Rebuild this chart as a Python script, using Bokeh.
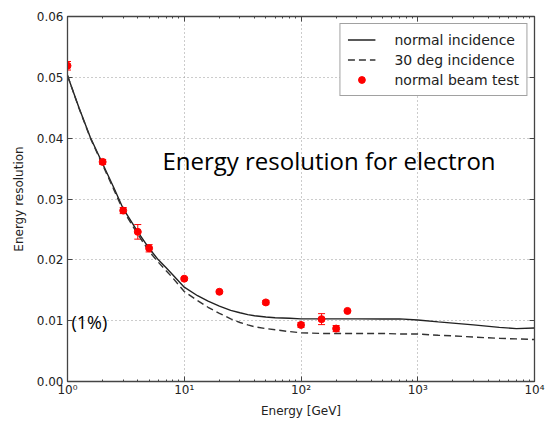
from bokeh.plotting import figure
from bokeh.models import (LogAxis, LinearAxis, FixedTicker, LogTicker, PrintfTickFormatter,
                          Legend, LegendItem, Whisker, TeeHead, ColumnDataSource)
from bokeh.core.properties import value
from bokeh.embed import file_html
from bokeh.resources import INLINE

# ---- data ----
curve_energy = [1, 1.25, 1.57, 2, 2.5, 3, 4, 5, 6, 7, 8, 10, 13, 16, 20, 25, 30, 35, 40, 50,
                60, 80, 100, 150, 200, 300, 500, 700, 1000, 1500, 2000, 3000, 5000, 7000, 10000]
normal_incidence = [0.0503, 0.0451, 0.0401, 0.0358, 0.0318, 0.0284, 0.0246, 0.0219, 0.0200,
                    0.0187, 0.0175, 0.0155, 0.0141, 0.0132, 0.0124, 0.0117, 0.0113, 0.0110,
                    0.0108, 0.0106, 0.01048, 0.0104, 0.0103, 0.0103, 0.0103, 0.0103, 0.01028,
                    0.0103, 0.0101, 0.0098, 0.0096, 0.0093, 0.0089, 0.0087, 0.0088]
deg30_incidence = [0.0503, 0.0450, 0.0400, 0.0356, 0.0315, 0.0281, 0.0242, 0.0214, 0.0196,
                   0.0182, 0.0170, 0.0148, 0.0133, 0.0122, 0.0112, 0.0103, 0.0097, 0.0093,
                   0.0090, 0.0087, 0.0085, 0.0082, 0.0080, 0.0079, 0.0079, 0.0079, 0.0079,
                   0.0078, 0.0078, 0.0076, 0.0075, 0.0073, 0.0071, 0.0070, 0.0069]
beam_energy = [1, 2, 3, 4, 5, 10, 20, 50, 100, 150, 200, 250]
beam_resolution = [0.0519, 0.0361, 0.0281, 0.0246, 0.0219, 0.0169, 0.01475, 0.0130,
                   0.0093, 0.01025, 0.0087, 0.0116]
beam_error = [0.0007, 0.0004, 0.0005, 0.0012, 0.0006, 0.0002, 0.0002, 0.0003,
              0.0004, 0.0009, 0.0005, 0.0002]
y_ticks = [0.0, 0.01, 0.02, 0.03, 0.04, 0.05, 0.06]
x_ticks = [1, 10, 100, 1000, 10000]
x_tick_labels = ["10\u2070", "10\u00b9", "10\u00b2", "10\u00b3", "10\u2074"]

AX = "#444444"
FONT = "DejaVu Sans"

p = figure(x_axis_type="log", x_range=(1, 1e4), y_range=(0, 0.06),
           frame_width=467, frame_height=365,
           min_border_left=67, min_border_right=14, min_border_top=16, min_border_bottom=39,
           output_backend="svg", toolbar_location=None,
           background_fill_color="white", border_fill_color="white")
p.outline_line_color = AX
p.outline_line_width = 1.3

xa = p.xaxis[0]
xa.ticker = LogTicker(num_minor_ticks=10)
xa.major_label_overrides = {t: s for t, s in zip(x_ticks, x_tick_labels)}
xa.axis_label = "Energy [GeV]"
ya = p.yaxis[0]
ya.ticker = FixedTicker(ticks=y_ticks)
ya.formatter = PrintfTickFormatter(format="%.2f")
ya.axis_label = "Energy resolution"

for ax in (xa, ya):
    ax.axis_line_color = AX
    ax.major_tick_line_color = AX
    ax.minor_tick_line_color = AX
    ax.major_tick_in = 5
    ax.major_tick_out = 0
    ax.minor_tick_in = 2
    ax.minor_tick_out = 0
    ax.major_label_text_font = FONT
    ax.major_label_text_font_size = "12px"
    ax.major_label_text_color = "#222222"
    ax.axis_label_text_font = FONT
    ax.axis_label_text_font_size = "12px"
    ax.axis_label_text_font_style = "normal"
    ax.axis_label_text_color = "#222222"
ya.minor_tick_line_color = None
ya.major_label_standoff = 4
ya.axis_label_standoff = 8
xa.major_label_standoff = 1
xa.axis_label_standoff = 4

top = LogAxis(ticker=LogTicker(num_minor_ticks=10), major_label_text_font_size="1px",
              major_label_text_color=None,
              major_label_standoff=0, major_tick_in=5, major_tick_out=0, minor_tick_in=2,
              minor_tick_out=0, axis_line_color=AX, major_tick_line_color=AX,
              minor_tick_line_color=AX)
right = LinearAxis(ticker=FixedTicker(ticks=y_ticks), major_label_text_font_size="1px",
                   major_label_text_color=None,
                   major_label_standoff=0, major_tick_in=5, major_tick_out=0,
                   minor_tick_line_color=None, axis_line_color=AX, major_tick_line_color=AX)
p.add_layout(top, "above")
p.add_layout(right, "right")

for g in (p.xgrid[0], p.ygrid[0]):
    g.grid_line_color = "#999999"
    g.grid_line_dash = "1 3"
    g.grid_line_width = 1
p.xgrid[0].ticker = FixedTicker(ticks=x_ticks)
p.ygrid[0].ticker = FixedTicker(ticks=y_ticks)

r_solid = p.line(curve_energy, normal_incidence, line_color="#222222", line_width=1.4)
r_dash = p.line(curve_energy, deg30_incidence, line_color="#333333", line_width=1.4,
                line_dash="7 4")

src = ColumnDataSource(dict(
    x=beam_energy, y=beam_resolution,
    lo=[v - e for v, e in zip(beam_resolution, beam_error)],
    hi=[v + e for v, e in zip(beam_resolution, beam_error)]))
wh = Whisker(source=src, base="x", lower="lo", upper="hi", dimension="height",
             line_color="red", line_width=1,
             lower_head=TeeHead(size=7, line_color="red", line_width=1),
             upper_head=TeeHead(size=7, line_color="red", line_width=1))
p.add_layout(wh)
r_pts = p.scatter("x", "y", source=src, size=7, color="red", marker="circle")

p.text(x=[6.5], y=[0.0363], text=["Energy resolution for electron"],
       text_font=value("Open Sans"), text_font_size="24px", text_color="black",
       text_baseline="middle", text_align="left")
p.text(x=[1.08], y=[0.0098], text=["(1%)"],
       text_font=value("Open Sans"), text_font_size="18px", text_color="black",
       text_baseline="middle", text_align="left")

legend = Legend(items=[
    LegendItem(label="normal incidence", renderers=[r_solid]),
    LegendItem(label="30 deg incidence", renderers=[r_dash]),
    LegendItem(label="normal beam test", renderers=[r_pts]),
], location="top_right")
legend.label_text_font = FONT
legend.label_text_font_size = "14px"
legend.label_text_color = "#222222"
legend.padding = 7
legend.spacing = 3
legend.margin = 7
legend.glyph_width = 28
legend.glyph_height = 17
legend.label_height = 17
legend.label_standoff = 19
legend.border_line_color = AX
legend.border_line_width = 1.3
legend.background_fill_color = "white"
legend.background_fill_alpha = 1
p.add_layout(legend)

open("out.html", "w").write(file_html(p, INLINE))
